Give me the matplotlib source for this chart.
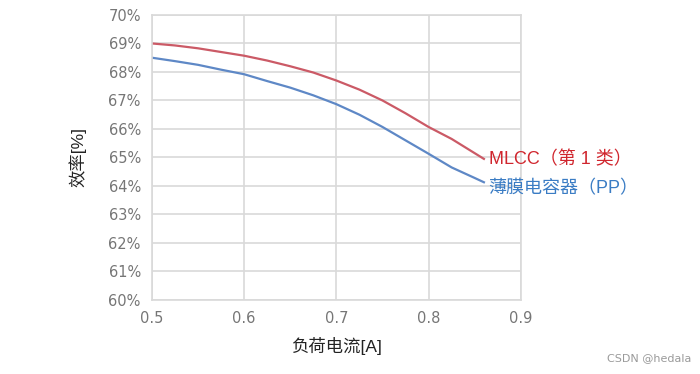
import matplotlib
matplotlib.use("Agg")
import matplotlib.pyplot as plt
from matplotlib.ticker import FuncFormatter

plt.rcParams['font.family'] = ['Liberation Sans', 'Noto Sans CJK SC', 'DejaVu Sans']

# 负荷电流 [A]
current = [0.50, 0.525, 0.55, 0.575, 0.60, 0.625, 0.65, 0.675, 0.70,
           0.725, 0.75, 0.775, 0.80, 0.825, 0.85, 0.86]
# 效率 [%]
eff_mlcc = [69.0, 68.93, 68.83, 68.70, 68.57, 68.40, 68.20, 67.98, 67.70,
            67.38, 67.0, 66.55, 66.07, 65.65, 65.15, 64.95]
eff_film = [68.5, 68.38, 68.25, 68.08, 67.92, 67.68, 67.45, 67.18, 66.87,
            66.5, 66.07, 65.6, 65.13, 64.65, 64.28, 64.13]

label_mlcc = "MLCC（第 1 类）"
label_film = "薄膜电容器（PP）"
xticks = [0.5, 0.6, 0.7, 0.8, 0.9]
yticks = list(range(60, 71))

fig = plt.figure(figsize=(7, 3.74), dpi=100)
ax = fig.add_axes([0.217, 0.198, 0.527, 0.762])

ax.plot(current, eff_mlcc, color="#CB5A66", lw=1.6, solid_joinstyle="round")
ax.plot(current, eff_film, color="#5E88C6", lw=1.6, solid_joinstyle="round")

ax.set_xlim(0.5, 0.9)
ax.set_ylim(60, 70)
ax.set_xticks(xticks)
ax.set_yticks(yticks)
ax.xaxis.set_major_formatter(FuncFormatter(lambda v, p: f"{v:.1f}"))
ax.yaxis.set_major_formatter(FuncFormatter(lambda v, p: f"{v:.0f}%"))
ax.tick_params(length=0, labelsize=10.5, labelcolor="#767676", pad=8)
for lab in ax.get_xticklabels() + ax.get_yticklabels():
    lab.set_family(['DejaVu Sans'])
ax.grid(True, color="#D9D9D9", lw=1.2)
ax.set_axisbelow(True)
for s in ax.spines.values():
    s.set_color("#D9D9D9")
    s.set_linewidth(1.2)

ax.set_xlabel("负荷电流[A]", fontsize=12.5, color="#222222", labelpad=8)
ax.set_ylabel("效率[%]", fontsize=12.5, color="#222222", labelpad=16)

# 曲线末端标签
ax.text(current[-1] + 0.005, eff_mlcc[-1] - 0.02, label_mlcc, color="#D0262E",
        fontsize=13, va="center", ha="left")
ax.text(current[-1] + 0.005, eff_film[-1] - 0.22, label_film, color="#3A7CC4",
        fontsize=13, va="center", ha="left")

fig.text(0.988, 0.03, "CSDN @hedala", color="#9A9A9A", fontsize=8, ha="right",
         va="bottom", family=['DejaVu Sans'])

fig.savefig("out.png", dpi=100, facecolor="white")
